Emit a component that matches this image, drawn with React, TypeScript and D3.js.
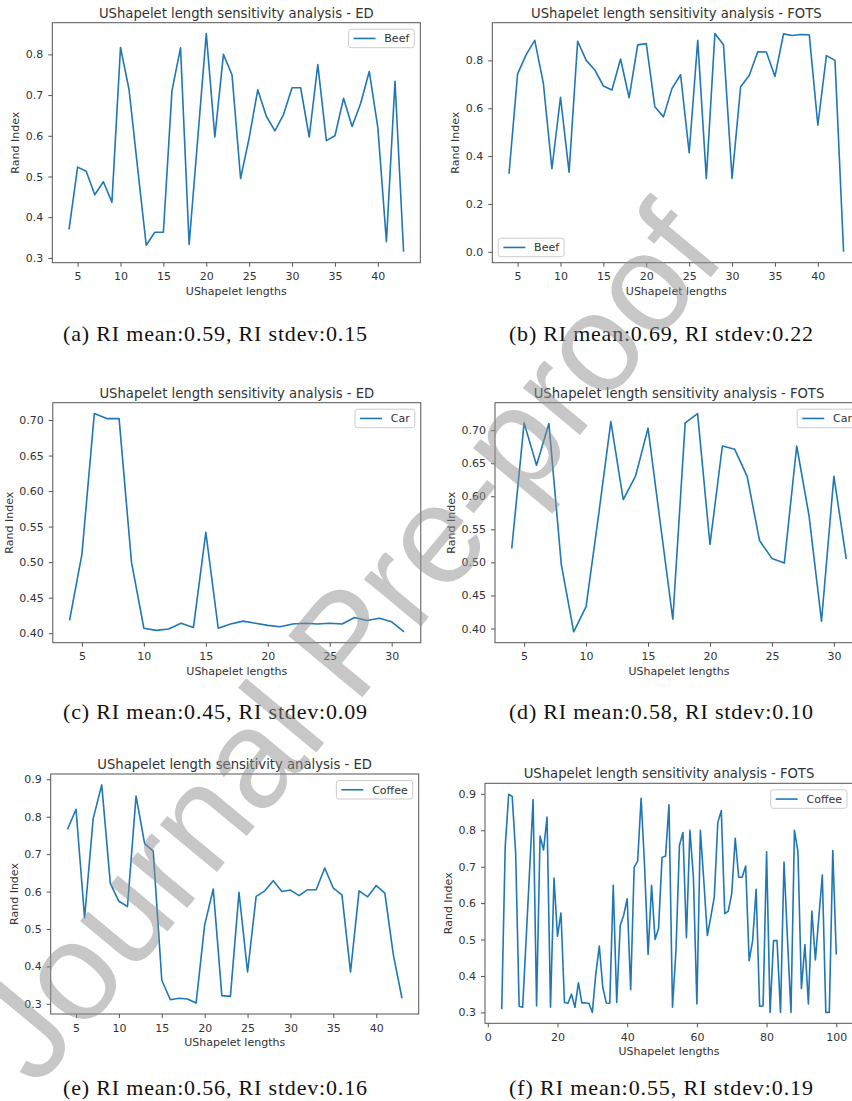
import React, { useEffect, useRef } from 'react';
import * as d3 from 'd3';

// ushapelet lengths on the x axis
const lengths4to43 = [4, 5, 6, 7, 8, 9, 10, 11, 12, 13, 14, 15, 16, 17, 18, 19, 20, 21, 22, 23,
  24, 25, 26, 27, 28, 29, 30, 31, 32, 33, 34, 35, 36, 37, 38, 39, 40, 41, 42, 43];
const lengths4to31 = [4, 5, 6, 7, 8, 9, 10, 11, 12, 13, 14, 15, 16, 17, 18, 19, 20, 21, 22, 23,
  24, 25, 26, 27, 28, 29, 30, 31];
const lengths4to100 = [4, 5, 6, 7, 8, 9, 10, 11, 12, 13, 14, 15, 16, 17, 18, 19, 20, 21, 22, 23,
  24, 25, 26, 27, 28, 29, 30, 31, 32, 33, 34, 35, 36, 37, 38, 39, 40, 41, 42, 43, 44, 45, 46, 47,
  48, 49, 50, 51, 52, 53, 54, 55, 56, 57, 58, 59, 60, 61, 62, 63, 64, 65, 66, 67, 68, 69, 70, 71,
  72, 73, 74, 75, 76, 77, 78, 79, 80, 81, 82, 83, 84, 85, 86, 87, 88, 89, 90, 91, 92, 93, 94, 95,
  96, 97, 98, 99, 100];

// rand index values
const beefED = [0.37, 0.523, 0.513, 0.455, 0.487, 0.437, 0.817, 0.713, 0.52, 0.331,
  0.363, 0.363, 0.711, 0.816, 0.333, 0.592, 0.851, 0.597, 0.80, 0.75,
  0.495, 0.595, 0.713, 0.648, 0.612, 0.652, 0.718, 0.718, 0.597, 0.775,
  0.588, 0.60, 0.692, 0.623, 0.68, 0.758, 0.62, 0.34, 0.734, 0.315];
const beefFOTS = [0.326, 0.744, 0.824, 0.884, 0.705, 0.347, 0.646, 0.333, 0.88, 0.80,
  0.76, 0.693, 0.676, 0.806, 0.644, 0.865, 0.87, 0.606, 0.564, 0.683,
  0.74, 0.414, 0.884, 0.307, 0.912, 0.865, 0.307, 0.69, 0.737, 0.836,
  0.835, 0.733, 0.911, 0.904, 0.908, 0.907, 0.529, 0.82, 0.80, 0.0];
const carED = [0.418, 0.511, 0.709, 0.702, 0.702, 0.50, 0.407, 0.404, 0.406, 0.414,
  0.408, 0.542, 0.407, 0.413, 0.417, 0.414, 0.411, 0.409, 0.413, 0.414,
  0.413, 0.414, 0.413, 0.422, 0.418, 0.421, 0.416, 0.402];
const carFOTS = [0.521, 0.711, 0.647, 0.710, 0.497, 0.395, 0.433, 0.57, 0.713, 0.595,
  0.631, 0.703, 0.558, 0.414, 0.711, 0.725, 0.527, 0.676, 0.671, 0.630,
  0.533, 0.506, 0.499, 0.676, 0.570, 0.411, 0.630, 0.505];
const coffeeED = [0.766, 0.82, 0.53, 0.795, 0.885, 0.622, 0.574, 0.56, 0.855, 0.728,
  0.708, 0.363, 0.311, 0.315, 0.313, 0.302, 0.511, 0.607, 0.322, 0.32,
  0.598, 0.385, 0.587, 0.602, 0.629, 0.60, 0.604, 0.589, 0.605, 0.605,
  0.663, 0.609, 0.591, 0.385, 0.602, 0.586, 0.616, 0.596, 0.43, 0.315];
const coffeeFOTS = [0.309, 0.755, 0.899, 0.893, 0.737, 0.317, 0.314, 0.50, 0.69, 0.884,
  0.318, 0.784, 0.746, 0.836, 0.314, 0.669, 0.509, 0.573, 0.327, 0.325,
  0.350, 0.314, 0.381, 0.326, 0.326, 0.325, 0.30, 0.406, 0.482, 0.369,
  0.326, 0.325, 0.649, 0.327, 0.539, 0.567, 0.612, 0.362, 0.698, 0.715,
  0.888, 0.70, 0.459, 0.649, 0.50, 0.53, 0.725, 0.729, 0.87, 0.314,
  0.47, 0.759, 0.794, 0.505, 0.80, 0.672, 0.323, 0.80, 0.66, 0.511,
  0.562, 0.617, 0.821, 0.854, 0.571, 0.578, 0.626, 0.778, 0.671, 0.671,
  0.702, 0.442, 0.497, 0.638, 0.317, 0.318, 0.741, 0.30, 0.497, 0.497,
  0.30, 0.713, 0.50, 0.30, 0.80, 0.741, 0.365, 0.486, 0.323, 0.578,
  0.444, 0.562, 0.677, 0.30, 0.30, 0.744, 0.459];

// tick labels
const xTicks40 = [5, 10, 15, 20, 25, 30, 35, 40];
const xTicks30 = [5, 10, 15, 20, 25, 30];
const xTicks100 = [0, 20, 40, 60, 80, 100];
const yTicksBeefED = [0.3, 0.4, 0.5, 0.6, 0.7, 0.8];
const yTicksBeefFOTS = [0.0, 0.2, 0.4, 0.6, 0.8];
const yTicksCar = [0.40, 0.45, 0.50, 0.55, 0.60, 0.65, 0.70];
const yTicksCoffee = [0.3, 0.4, 0.5, 0.6, 0.7, 0.8, 0.9];

const titleED = 'UShapelet length sensitivity analysis - ED';
const titleFOTS = 'UShapelet length sensitivity analysis - FOTS';
const captions = [
  '(a) RI mean:0.59, RI stdev:0.15',
  '(b) RI mean:0.69, RI stdev:0.22',
  '(c) RI mean:0.45, RI stdev:0.09',
  '(d) RI mean:0.58, RI stdev:0.10',
  '(e) RI mean:0.56, RI stdev:0.16',
  '(f) RI mean:0.55, RI stdev:0.19',
];

const panels = [
  { xs: lengths4to43, ys: beefED, name: 'Beef', title: titleED, xTicks: xTicks40, yTicks: yTicksBeefED, yFmt: '.1f', left: 52.3, top: 22.7, legend: 'ur', caption: captions[0], capX: 215, capY: 341 },
  { xs: lengths4to43, ys: beefFOTS, name: 'Beef', title: titleFOTS, xTicks: xTicks40, yTicks: yTicksBeefFOTS, yFmt: '.1f', left: 492.3, top: 22.7, legend: 'll', caption: captions[1], capX: 661, capY: 341 },
  { xs: lengths4to31, ys: carED, name: 'Car', title: titleED, xTicks: xTicks30, yTicks: yTicksCar, yFmt: '.2f', left: 52.8, top: 402.7, legend: 'ur', caption: captions[2], capX: 215, capY: 719 },
  { xs: lengths4to31, ys: carFOTS, name: 'Car', title: titleFOTS, xTicks: xTicks30, yTicks: yTicksCar, yFmt: '.2f', left: 495, top: 402.7, legend: 'ur', caption: captions[3], capX: 661, capY: 719 },
  { xs: lengths4to43, ys: coffeeED, name: 'Coffee', title: titleED, xTicks: xTicks40, yTicks: yTicksCoffee, yFmt: '.1f', left: 50.7, top: 774, legend: 'ur', caption: captions[4], capX: 215, capY: 1095 },
  { xs: lengths4to100, ys: coffeeFOTS, name: 'Coffee', title: titleFOTS, xTicks: xTicks100, yTicks: yTicksCoffee, yFmt: '.1f', left: 485, top: 783.3, legend: 'ur', caption: captions[5], capX: 661, capY: 1095 },
];

const BLUE = '#1f77b4';
const INK = '#333';
const SPINE = '#555';
const FONT = 'DejaVu Sans, sans-serif';

function drawPanel(svg: any, p: any) {
  const w = 368, h = 240;
  const xExt = d3.extent(p.xs) as number[];
  const yExt = d3.extent(p.ys) as number[];
  const xPad = (xExt[1] - xExt[0]) * 0.05;
  const yPad = (yExt[1] - yExt[0]) * 0.05;

  const x = d3.scaleLinear().domain([xExt[0] - xPad, xExt[1] + xPad]).range([p.left, p.left + w]);
  const y = d3.scaleLinear().domain([yExt[0] - yPad, yExt[1] + yPad]).range([p.top + h, p.top]);

  const g = svg.append('g');

  // x axis
  const gx = g.append('g')
    .attr('transform', 'translate(0,' + (p.top + h) + ')')
    .call(d3.axisBottom(x).tickValues(p.xTicks).tickFormat(d3.format('d')).tickSizeOuter(0).tickSize(4).tickPadding(6));
  gx.select('.domain').remove();

  // y axis
  const gy = g.append('g')
    .attr('transform', 'translate(' + p.left + ',0)')
    .call(d3.axisLeft(y).tickValues(p.yTicks).tickFormat(d3.format(p.yFmt)).tickSizeOuter(0).tickSize(4).tickPadding(5));
  gy.select('.domain').remove();

  [gx, gy].forEach((a: any) => {
    a.attr('font-family', FONT).attr('font-size', 11);
    a.selectAll('line').attr('stroke', SPINE);
    a.selectAll('text').attr('fill', INK);
  });

  // series line
  g.append('path')
    .datum(d3.zip(p.xs, p.ys))
    .attr('fill', 'none')
    .attr('stroke', BLUE)
    .attr('stroke-width', 1.6)
    .attr('stroke-linejoin', 'round')
    .attr('d', d3.line().x((d: any) => x(d[0])).y((d: any) => y(d[1])));

  // frame
  g.append('rect')
    .attr('x', p.left).attr('y', p.top).attr('width', w).attr('height', h)
    .attr('fill', 'none').attr('stroke', SPINE).attr('stroke-width', 1);

  // title
  g.append('text')
    .attr('x', p.left + w / 2).attr('y', p.top - 5)
    .attr('text-anchor', 'middle')
    .attr('font-family', FONT).attr('font-size', 13.2).attr('fill', INK)
    .text(p.title);

  // x label
  g.append('text')
    .attr('x', p.left + w / 2).attr('y', p.top + h + 32)
    .attr('text-anchor', 'middle')
    .attr('font-family', FONT).attr('font-size', 11).attr('fill', INK)
    .text('UShapelet lengths');

  // y label, placed past the widest tick label
  let tw = 0;
  gy.selectAll('text').each(function (this: any) {
    tw = Math.max(tw, this.getComputedTextLength());
  });
  const lx = p.left - 19.5 - tw + 4;
  g.append('text')
    .attr('transform', 'translate(' + lx + ',' + (p.top + h / 2) + ') rotate(-90)')
    .attr('text-anchor', 'middle')
    .attr('font-family', FONT).attr('font-size', 11).attr('fill', INK)
    .text('Rand Index');

  // legend
  const lg = g.append('g');
  const label = lg.append('text')
    .attr('font-family', FONT).attr('font-size', 11).attr('fill', INK)
    .text(p.name);
  const textW = (label.node() as any).getComputedTextLength();
  const bw = 5 + 22 + 8.8 + textW + 5;
  const bh = 18.5;
  const bx = p.legend === 'll' ? p.left + 6 : p.left + w - 6 - bw;
  const by = p.legend === 'll' ? p.top + h - 6 - bh : p.top + 6.5;
  lg.insert('rect', 'text')
    .attr('x', bx).attr('y', by).attr('width', bw).attr('height', bh)
    .attr('rx', 2.5)
    .attr('fill', 'white').attr('fill-opacity', 0.8)
    .attr('stroke', '#ccc').attr('stroke-width', 1);
  lg.append('line')
    .attr('x1', bx + 5).attr('x2', bx + 27)
    .attr('y1', by + bh / 2).attr('y2', by + bh / 2)
    .attr('stroke', BLUE).attr('stroke-width', 1.6);
  label.attr('x', bx + 5 + 22 + 8.8).attr('y', by + bh / 2).attr('dy', '0.36em');

  // sub-figure caption
  svg.append('text')
    .attr('x', p.capX).attr('y', p.capY)
    .attr('text-anchor', 'middle')
    .attr('font-family', 'Liberation Serif, serif').attr('font-size', 22)
    .attr('textLength', 304).attr('lengthAdjust', 'spacing')
    .attr('fill', '#111')
    .text(p.caption);
}

export default function App() {
  const ref = useRef<SVGSVGElement | null>(null);

  useEffect(() => {
    const node = ref.current;
    const svg = d3.select(node);
    svg.selectAll('*').remove();

    svg.append('rect').attr('width', 852).attr('height', 1101).attr('fill', 'white');
    panels.forEach(p => drawPanel(svg, p));

    // journal watermark
    svg.append('text')
      .attr('transform', 'translate(345,642) rotate(-50.3)')
      .attr('text-anchor', 'middle')
      .attr('dominant-baseline', 'central')
      .attr('font-family', 'Liberation Sans, Arial, sans-serif')
      .attr('font-size', 140)
      .attr('fill', '#909090').attr('fill-opacity', 0.5)
      .text('Journal Pre-proof');
  }, []);

  return (
    <svg ref={ref} width={852} height={1101}
      style={{ position: 'absolute', left: 0, top: 0, display: 'block' }} />
  );
}
